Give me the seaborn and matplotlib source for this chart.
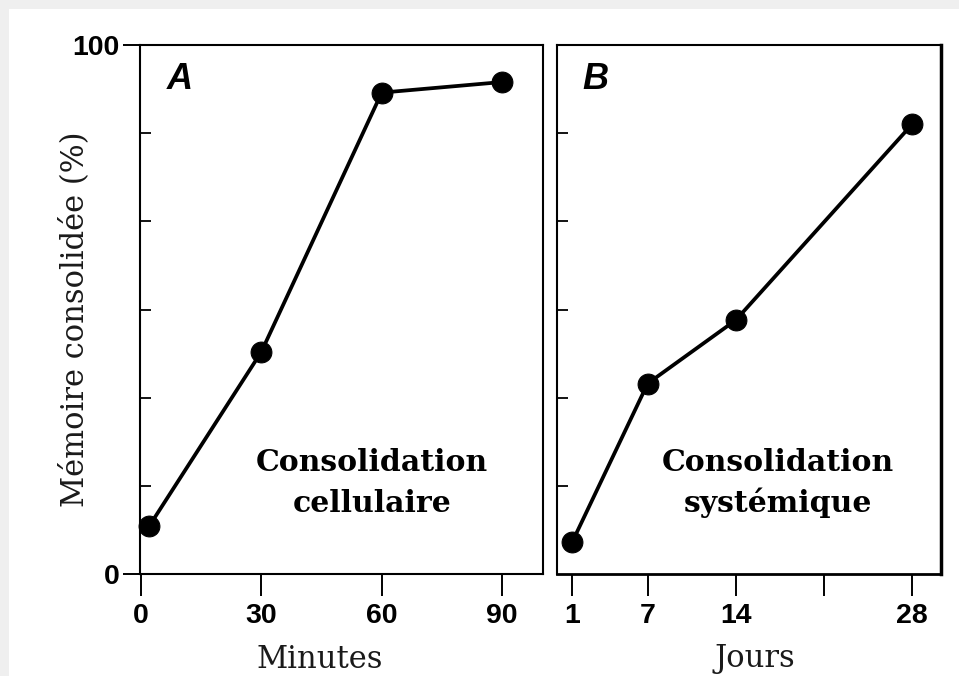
import matplotlib
matplotlib.use("Agg")
import matplotlib.pyplot as plt
import seaborn as sns
import pandas as pd
from matplotlib.patches import Rectangle
from matplotlib.ticker import FixedLocator

# ---- data ----
minutes = [2, 30, 60, 90]
cellular = [9, 42, 91, 93]
days = [1, 7, 14, 28]
systemic = [6, 36, 48, 85]
minute_ticks = [0, 30, 60, 90]
day_ticks = [1, 7, 14, 21, 28]
day_tick_labels = ["1", "7", "14", "", "28"]
y_major = [0, 100]
y_minor = [100 / 6 * k for k in range(1, 6)]

sns.set_style("white")
plt.rcParams["font.family"] = ["Liberation Sans", "DejaVu Sans"]
plt.rcParams["text.color"] = "black"
plt.rcParams["xtick.color"] = "black"
plt.rcParams["ytick.color"] = "black"
plt.rcParams["xtick.labelcolor"] = "black"
plt.rcParams["ytick.labelcolor"] = "black"

W, H = 959, 676
fig = plt.figure(figsize=(9.59, 6.76), dpi=100)
fig.patch.set_facecolor("white")
# grey frame bands (top and left)
fig.patches.append(Rectangle((0, 1 - 9 / H), 1, 9 / H, transform=fig.transFigure,
                             facecolor="#efefef", edgecolor="none", zorder=-10))
fig.patches.append(Rectangle((0, 0), 9 / W, 1, transform=fig.transFigure,
                             facecolor="#efefef", edgecolor="none", zorder=-10))

def pos(x0, x1, ytop, ybot):
    return [x0 / W, 1 - ybot / H, (x1 - x0) / W, (ybot - ytop) / H]

axA = fig.add_axes(pos(140, 543, 45, 574))
axB = fig.add_axes(pos(557, 941, 45, 574))

dfA = pd.DataFrame({"x": minutes, "y": cellular})
dfB = pd.DataFrame({"x": days, "y": systemic})

for ax, df in ((axA, dfA), (axB, dfB)):
    sns.lineplot(data=df, x="x", y="y", ax=ax, color="black", marker="o",
                 markersize=15, markeredgecolor="black", linewidth=2.7, clip_on=False,
                 zorder=3)
    ax.set_facecolor("none")
    ax.set_ylim(0, 100)
    ax.set_xlabel("")
    ax.set_ylabel("")
    for s in ax.spines.values():
        s.set_visible(True)
        s.set_linewidth(1.5)
        s.set_color("black")
    ax.yaxis.set_minor_locator(FixedLocator(y_minor))
    ax.tick_params(axis="y", which="minor", direction="in", length=8, width=1.3,
                   left=True, right=False, color="black")
    ax.tick_params(axis="x", which="major", direction="out", length=16, width=1.4,
                   pad=5, labelsize=20.5, bottom=True, color="black", labelcolor="black")

axA.set_xlim(-0.25, 100.2)
axA.set_xticks(minute_ticks)
axA.set_xticklabels([str(t) for t in minute_ticks], fontweight="bold", fontsize=20.5,
                    color="black")
axA.set_yticks(y_major)
axA.set_yticklabels([str(t) for t in y_major], fontweight="bold", fontsize=20.5,
                    color="black")
axA.tick_params(axis="y", which="major", direction="out", length=12, width=1.4, pad=3,
                left=True, color="black")

axB.set_xlim(-0.2, 30.3)
axB.set_xticks(day_ticks)
axB.set_xticklabels(day_tick_labels, fontweight="bold", fontsize=20.5, color="black")
axB.set_yticks([])
axB.yaxis.set_minor_locator(FixedLocator(y_minor))
axB.tick_params(axis="y", which="minor", direction="in", length=8, width=1.3, left=True,
                color="black")
axB.spines["right"].set_linewidth(2.5)
axB.spines["bottom"].set_linewidth(2.0)

# panel letters
axA.text(0.099, 0.934, "A", transform=axA.transAxes, ha="center", va="center",
         fontsize=26, fontweight="bold", fontstyle="italic", color="black")
axB.text(0.10, 0.934, "B", transform=axB.transAxes, ha="center", va="center",
         fontsize=26, fontweight="bold", fontstyle="italic", color="black")

serif = ["DejaVu Serif"]
for ax, l1, l2 in ((axA, "Consolidation", "cellulaire"), (axB, "Consolidation", "systémique")):
    ax.text(0.576, 0.21, l1, transform=ax.transAxes, ha="center", va="center",
            fontsize=21.5, fontweight="bold", family=serif, color="black")
    ax.text(0.576, 0.134, l2, transform=ax.transAxes, ha="center", va="center",
            fontsize=21.5, fontweight="bold", family=serif, color="black")

fig.text(75 / W, 1 - 319 / H, "Mémoire consolidée (%)", rotation=90, ha="center",
         va="center", fontsize=22, family=serif, color="#1a1a1a")
fig.text(320 / W, 1 - 659 / H, "Minutes", ha="center", va="center", fontsize=22,
         family=serif, color="#1a1a1a")
fig.text(755 / W, 1 - 659 / H, "Jours", ha="center", va="center", fontsize=22,
         family=serif, color="#1a1a1a")

fig.savefig("out.png", dpi=100, facecolor=fig.get_facecolor())
